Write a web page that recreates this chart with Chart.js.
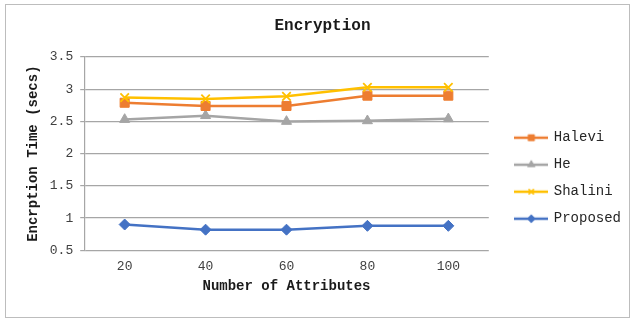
<!DOCTYPE html>
<html>
<head>
<meta charset="utf-8">
<script src="https://cdn.jsdelivr.net/npm/chart.js@4/dist/chart.umd.min.js"></script>
<style>
  html,body{margin:0;padding:0;background:#fff;}
  #frame{position:absolute;left:5px;top:4px;width:623px;height:312px;border:1px solid #bdbdbd;}
  #c{position:absolute;left:0;top:0;}
</style>
</head>
<body>
<div id="frame"></div>
<canvas id="c" width="633" height="320"></canvas>
<script>
/* ── DATA ── */
const attrs    = ['20','40','60','80','100'];
const halevi   = [2.79, 2.74, 2.74, 2.90, 2.90];
const he       = [2.53, 2.59, 2.50, 2.51, 2.54];
const shalini  = [2.87, 2.85, 2.89, 3.03, 3.03];
const proposed = [0.90, 0.82, 0.82, 0.88, 0.88];

const MONO = '"Liberation Mono", "DejaVu Sans Mono", monospace';

// legend icon: short line with the marker in the middle
function icon(color, style, r) {
  const cv = document.createElement('canvas');
  cv.width = 34; cv.height = 12;
  const g = cv.getContext('2d');
  g.strokeStyle = color; g.lineWidth = 2.5;
  g.beginPath(); g.moveTo(0,6); g.lineTo(34,6); g.stroke();
  g.fillStyle = color; g.strokeStyle = color; g.lineWidth = 1.2;
  if (Chart.helpers && Chart.helpers.drawPoint) {
    Chart.helpers.drawPoint(g, {pointStyle:style, radius:r, rotation:0, borderWidth:1.2}, 17, 6);
    g.fill(); g.stroke();
  }
  return cv;
}

function series(label, data, color, style, r, order, bw) {
  return {
    label, data, order,
    borderColor: color, backgroundColor: color,
    borderWidth: 2.5, tension: 0,
    pointStyle: style, pointRadius: r, pointHoverRadius: r,
    pointBorderWidth: bw || 1, pointBackgroundColor: color, pointBorderColor: color,
    legendIcon: icon(color, style, r*0.6)
  };
}

new Chart(document.getElementById('c').getContext('2d'), {
  type: 'line',
  data: {
    labels: attrs,
    datasets: [
      series('Halevi',   halevi,   '#ED7D31', 'rect',     6.4, 3),
      series('He',       he,       '#A5A5A5', 'triangle', 5.8, 4),
      series('Shalini',  shalini,  '#FFC000', 'crossRot', 6,   2, 1.8),
      series('Proposed', proposed, '#4472C4', 'rectRot',  5.5, 1)
    ]
  },
  options: {
    responsive: false, animation: false,
    layout: { padding: { left: 14, right: 2, top: 0, bottom: 24.9 } },
    plugins: {
      title: {
        display: true, text: 'Encryption', color: '#1a1a1a',
        font: { family: MONO, size: 16, weight: 'bold' },
        padding: { top: 16.4, bottom: 21.4 }
      },
      legend: {
        position: 'right', maxWidth: 140,
        title: { display: true, text: ' ', font: { size: 10 }, padding: { top: 49.3, bottom: 0 } },
        labels: {
          usePointStyle: true, pointStyleWidth: 31, padding: 13,
          color: '#262626', font: { family: MONO, size: 14 },
          sort: (a,b) => a.datasetIndex - b.datasetIndex,
          generateLabels(chart) {
            return chart.data.datasets.map((ds,i) => ({
              text: ds.label, datasetIndex: i, pointStyle: ds.legendIcon,
              fillStyle: ds.borderColor, strokeStyle: ds.borderColor,
              fontColor: '#262626', lineWidth: 0, hidden: false
            }));
          }
        }
      },
      tooltip: { enabled: false }
    },
    scales: {
      x: {
        offset: true,
        grid: { display: false, drawTicks: false },
        border: { display: false },
        ticks: { color: '#404040', font: { family: MONO, size: 13 }, padding: 8.4 },
        title: {
          display: true, text: 'Number of Attributes', color: '#1a1a1a',
          font: { family: MONO, size: 14, weight: 'bold' },
          padding: { top: -4.4, bottom: 0 }
        }
      },
      y: {
        min: 0.5, max: 3.5,
        grid: { color: '#a6a6a6', lineWidth: 1.2, tickLength: 4 },
        border: { display: true, color: '#a6a6a6', width: 1.2 },
        ticks: {
          stepSize: 0.5, color: '#404040', font: { family: MONO, size: 13 }, padding: 7,
          callback: v => String(+v.toFixed(1))
        },
        title: {
          display: true, text: 'Encrption Time (secs)', color: '#1a1a1a',
          font: { family: MONO, size: 14, weight: 'bold' },
          padding: { top: 11, bottom: 1 }
        }
      },
      // spacer between plot and legend
      gap: {
        type: 'linear', position: 'right', display: true,
        grid: { display: false }, border: { display: false }, ticks: { display: false },
        afterFit(s) { s.width = 14; }
      }
    }
  }
});
</script>
</body>
</html>
